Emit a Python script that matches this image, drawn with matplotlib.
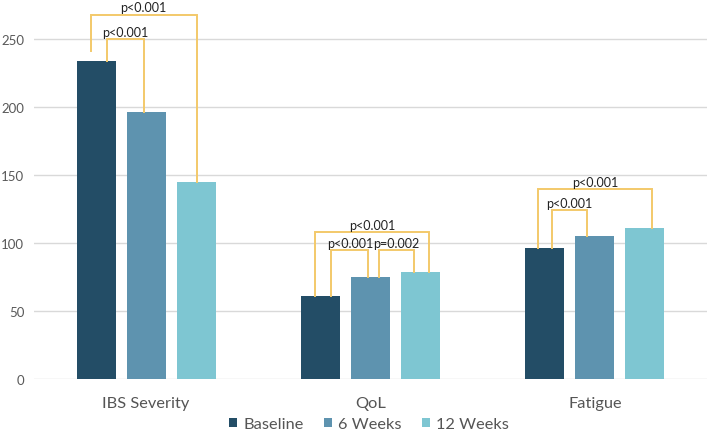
import numpy as np
import matplotlib.pyplot as plt
from matplotlib.patches import Patch

plt.rcParams['font.family'] = ['Lato', 'DejaVu Sans']

categories = ["IBS Severity", "QoL", "Fatigue"]
series = ["Baseline", "6 Weeks", "12 Weeks"]
baseline = [234, 61, 96]
weeks6 = [196, 75, 105.5]
weeks12 = [145, 78.5, 111]
values = [baseline, weeks6, weeks12]
colors = ["#234D66", "#5E93AF", "#7EC6D2"]

# brackets: category, left x offset, right x offset, top, left leg end, right leg end, label
brackets = [
    (0, -0.247, 0.225, 268, 241, 145, "p<0.001"),
    (0, -0.176, -0.011, 250, 234, 196, "p<0.001"),
    (1, -0.246, 0.260, 108, 61, 78.5, "p<0.001"),
    (1, -0.174, -0.010, 95, 61, 75, "p<0.001"),
    (1, 0.040, 0.192, 95, 75, 78.5, "p=0.002"),
    (2, -0.252, 0.253, 139.5, 96, 111, "p<0.001"),
    (2, -0.192, -0.035, 124.5, 96, 105.5, "p<0.001"),
]

fig = plt.figure(figsize=(7.09, 4.35), dpi=100)
ax = fig.add_axes([34/709, 55/435, 673/709, 380/435])

x = np.arange(len(categories))
step = 0.2227
width = 0.174
for i, (name, vals, c) in enumerate(zip(series, values, colors)):
    ax.bar(x + (i - 1) * step, vals, width, color=c, label=name, zorder=2)

bcol = "#F3C96A"
for cat, l, r, top, ly, ry, lab in brackets:
    ax.plot([cat + l, cat + l, cat + r, cat + r], [ly, top, top, ry],
            color=bcol, lw=1.4, zorder=3, solid_joinstyle='miter')
    ax.text(cat + (l + r) / 2, top + 0.8, lab, ha='center', va='bottom',
            fontsize=9, color='#222222', zorder=4)

ax.set_xlim(-0.5, 2.5)
ax.set_ylim(0, 279.4)
ax.set_yticks([0, 50, 100, 150, 200, 250])
ax.set_xticks(x)
ax.set_xticklabels(categories, fontsize=11.8, color='#555555')
ax.tick_params(axis='y', labelsize=9.5, colors='#595959', length=0, pad=7)
ax.tick_params(axis='x', length=0, pad=12)
ax.grid(axis='y', color='#D9D9D9', lw=1, zorder=0)
for s in ax.spines.values():
    s.set_visible(False)

handles = [Patch(facecolor=c, label=n) for n, c in zip(series, colors)]
fig.legend(handles=handles, loc='center', bbox_to_anchor=(369/709, 1 - 425/435),
           ncol=3, frameon=False, fontsize=11.8, handlelength=0.5, handleheight=0.5,
           handletextpad=0.35, columnspacing=1.25, labelcolor='#555555')

fig.savefig("out.png", dpi=100)
